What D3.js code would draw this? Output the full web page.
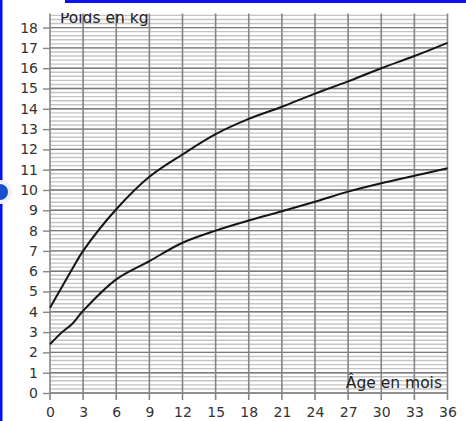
<!DOCTYPE html>
<html>
<head>
<meta charset="utf-8">
<script src="https://cdn.jsdelivr.net/npm/d3@7"></script>
<style>
  body { margin: 0; background: #fff; }
  svg { display: block; font-family: "DejaVu Sans", sans-serif; }
</style>
</head>
<body>
<div id="chart"></div>
<script>
// ages in months and weights in kg
var ages = [0, 1, 2, 3, 6, 9, 12, 15, 18, 21, 24, 27, 30, 33, 36];
var upper = [4.2, 5.15, 6.1, 7.0, 9.05, 10.65, 11.75, 12.75, 13.5, 14.1, 14.75, 15.35, 16.0, 16.6, 17.25];
var lower = [2.4, 2.95, 3.4, 4.05, 5.6, 6.5, 7.4, 8.0, 8.5, 8.95, 9.42, 9.92, 10.33, 10.7, 11.07];
var xTicks = d3.range(0, 37, 3);
var yTicks = d3.range(0, 19, 1);
var minorY = d3.range(0, 18.61, 0.2);

var W = 466, H = 421;
var svg = d3.select("#chart").append("svg")
	.attr("width", W)
	.attr("height", H)
	.attr("viewBox", [0, 0, W, H]);

var x = d3.scaleLinear().domain([0, 36]).range([50, 447.5]);
var y = d3.scaleLinear().domain([0, 18]).range([393, 27.6]);

// minor horizontal lines
svg.append("g")
	.selectAll("line")
	.data(minorY)
	.join("line")
	.attr("x1", x(0)).attr("x2", x(36))
	.attr("y1", d => y(d)).attr("y2", d => y(d))
	.attr("stroke", "#c4c4c4")
	.attr("stroke-width", 1.4);

// major horizontal lines
svg.append("g")
	.selectAll("line")
	.data(yTicks)
	.join("line")
	.attr("x1", x(0)).attr("x2", x(36))
	.attr("y1", d => y(d)).attr("y2", d => y(d))
	.attr("stroke", "#7a7a7a")
	.attr("stroke-width", 1.4);

// vertical lines every 3 months
svg.append("g")
	.selectAll("line")
	.data(xTicks)
	.join("line")
	.attr("x1", d => x(d)).attr("x2", d => x(d))
	.attr("y1", y(18.7)).attr("y2", y(0) + 7)
	.attr("stroke", "#858585")
	.attr("stroke-width", 1.6);

// y axis
var yAxis = svg.append("g")
	.attr("transform", "translate(" + x(0) + ",0)")
	.call(d3.axisLeft(y).tickValues(yTicks).tickSize(7).tickPadding(5).tickFormat(d3.format("d")));
yAxis.select(".domain").remove();
yAxis.selectAll(".tick line").attr("stroke", "#858585").attr("stroke-width", 1.4);
yAxis.selectAll("text").attr("font-size", 14).attr("fill", "#333").attr("font-family", "DejaVu Sans");

// x axis
var xAxis = svg.append("g")
	.attr("transform", "translate(0," + y(0) + ")")
	.call(d3.axisBottom(x).tickValues(xTicks).tickSize(0).tickPadding(14).tickFormat(d3.format("d")));
xAxis.select(".domain").remove();
xAxis.selectAll("text").attr("font-size", 14).attr("fill", "#333").attr("font-family", "DejaVu Sans");

// curves
var line = d3.line()
	.x((d, i) => x(ages[i]))
	.y(d => y(d))
	.curve(d3.curveCatmullRom.alpha(0.5));

[upper, lower].forEach(function(s) {
	svg.append("path")
		.datum(s)
		.attr("d", line)
		.attr("fill", "none")
		.attr("stroke", "#151515")
		.attr("stroke-width", 2);
});

// labels
svg.append("text")
	.attr("x", 60)
	.attr("y", 23)
	.attr("font-size", 15.5)
	.attr("fill", "#222")
	.text("Poids en kg");

svg.append("text")
	.attr("x", 442)
	.attr("y", 388)
	.attr("text-anchor", "end")
	.attr("font-size", 15.5)
	.attr("fill", "#222")
	.text("Âge en mois");

// cropped top edge and blue frame
svg.append("rect").attr("x", 0).attr("y", 0).attr("width", W).attr("height", 13).attr("fill", "#fff");
svg.append("rect").attr("x", 65).attr("y", 0).attr("width", W - 65).attr("height", 3).attr("fill", "#0a10f0");
svg.append("rect").attr("x", 0).attr("y", 0).attr("width", 2.5).attr("height", H).attr("fill", "#0a10f0");
svg.append("circle").attr("cx", 0).attr("cy", 192).attr("r", 12).attr("fill", "#f2f2f2");
svg.append("circle").attr("cx", 0).attr("cy", 192).attr("r", 8).attr("fill", "#1a4fd0");
</script>
</body>
</html>
